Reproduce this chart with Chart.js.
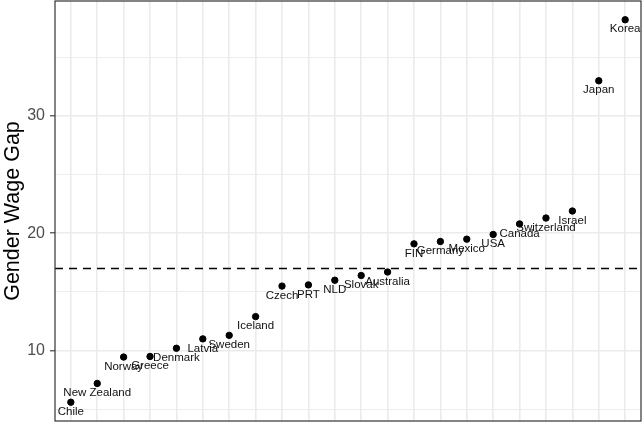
<!DOCTYPE html>
<html>
<head>
<meta charset="utf-8">
<script src="https://cdn.jsdelivr.net/npm/chart.js@4.4.1/dist/chart.umd.min.js"></script>
<style>
  html, body { margin: 0; padding: 0; background: #fff; }
  #wrap { width: 644px; height: 423px; }
</style>
</head>
<body>
<div id="wrap"><canvas id="myChart" width="644" height="423"></canvas></div>
<script>
// countries, sorted by gap
const countries = ["Chile", "New Zealand", "Norway", "Greece", "Denmark", "Latvia", "Sweden",
  "Iceland", "Czech", "PRT", "NLD", "Slovak", "Australia", "FIN", "Germany", "Mexico",
  "USA", "Canada", "Switzerland", "Israel", "Japan", "Korea"];
// gender wage gap values
const gaps = [5.6, 7.2, 9.45, 9.5, 10.2, 11.0, 11.3, 12.9, 15.5, 15.6, 16.0, 16.4, 16.7,
  19.1, 19.3, 19.5, 19.9, 20.8, 21.3, 21.9, 33.0, 38.2];
// average line
const meanGap = 17.0;
// y tick labels shown
const yLabels = [10, 20, 30];

const points = countries.map((c, i) => ({ x: i + 1, y: gaps[i] }));

// country names under each point
const labelPlugin = {
  id: "labels",
  afterDatasetsDraw(chart) {
    const ctx = chart.ctx;
    const meta = chart.getDatasetMeta(0);
    ctx.save();
    ctx.font = "11.5px 'Liberation Sans', Arial, sans-serif";
    ctx.fillStyle = "#111";
    ctx.textAlign = "center";
    ctx.textBaseline = "middle";
    meta.data.forEach((pt, i) => {
      ctx.fillText(countries[i], pt.x, pt.y + 9.5);
    });
    ctx.restore();
  }
};

// dashed mean line + panel border
const panelPlugin = {
  id: "panel",
  beforeDatasetsDraw(chart) {
    const ctx = chart.ctx;
    const a = chart.chartArea;
    const y = chart.scales.y.getPixelForValue(meanGap);
    ctx.save();
    ctx.strokeStyle = "#000";
    ctx.lineWidth = 1.6;
    ctx.setLineDash([8, 6]);
    ctx.beginPath();
    ctx.moveTo(a.left, y);
    ctx.lineTo(a.right, y);
    ctx.stroke();
    ctx.restore();
  },
  afterDraw(chart) {
    const ctx = chart.ctx;
    const a = chart.chartArea;
    ctx.save();
    ctx.strokeStyle = "#333333";
    ctx.lineWidth = 1.2;
    ctx.strokeRect(a.left, a.top, a.right - a.left, a.bottom - a.top);
    ctx.restore();
  }
};

const ctx = document.getElementById("myChart").getContext("2d");
const myChart = new Chart(ctx, {
  type: "scatter",
  data: {
    datasets: [
      {
        data: points,
        backgroundColor: "#000",
        borderColor: "#000",
        pointRadius: 3.2,
        pointHoverRadius: 3.2,
      },
    ],
  },
  options: {
    responsive: false,
    animation: false,
    layout: { autoPadding: false, padding: { top: 1, right: 3, bottom: 2, left: 0 } },
    plugins: {
      legend: { display: false },
      tooltip: { enabled: false },
    },
    scales: {
      x: {
        type: "linear",
        min: 0.4,
        max: 22.6,
        afterBuildTicks: (scale) => {
          scale.ticks = countries.map((c, i) => ({ value: i + 1 }));
        },
        ticks: { display: false },
        grid: { color: "#EBEBEB", lineWidth: 1.6, drawTicks: false },
        border: { display: false },
        afterFit: (scale) => {
          scale.height = 0;
          scale.paddingLeft = 0;
          scale.paddingRight = 0;
        },
      },
      y: {
        min: 4.0,
        max: 39.8,
        afterBuildTicks: (scale) => {
          scale.ticks = [5, 10, 15, 20, 25, 30, 35].map((v) => ({ value: v }));
        },
        ticks: {
          color: "#4D4D4D",
          font: { family: "'Liberation Sans', Arial, sans-serif", size: 16 },
          padding: 5,
          callback: (v) => (yLabels.includes(v) ? String(v) : ""),
        },
        grid: {
          color: "#EBEBEB",
          lineWidth: (c) => (c.tick && yLabels.includes(c.tick.value) ? 1.6 : 0.9),
          tickLength: 5,
          tickColor: (c) => (c.tick && yLabels.includes(c.tick.value) ? "#333333" : "rgba(0,0,0,0)"),
          tickWidth: 1.1,
        },
        border: { display: false },
        title: {
          display: true,
          text: "Gender Wage Gap",
          color: "#000",
          font: { family: "'Liberation Sans', Arial, sans-serif", size: 21.5 },
          padding: { top: 0, bottom: 4 },
        },
        afterFit: (scale) => {
          scale.width = 55;
          scale.paddingTop = 0;
          scale.paddingBottom = 0;
        },
      },
    },
  },
  plugins: [panelPlugin, labelPlugin],
});
</script>
</body>
</html>
